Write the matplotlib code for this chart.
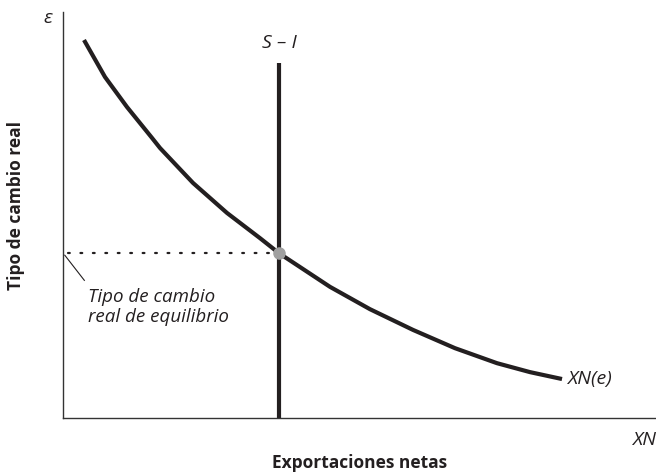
import matplotlib
matplotlib.use("Agg")
from matplotlib import pyplot as plt

plt.rcParams['font.family'] = ['Open Sans', 'DejaVu Sans']

# Curva XN(e) (unidades arbitrarias 0-10)
xn_x = [0.354, 0.708, 1.079, 1.500, 1.636, 2.192, 2.766, 3.322, 3.642,
        4.503, 5.177, 5.902, 6.610, 7.319, 7.875, 8.415]
xn_y = [9.31, 8.40, 7.66, 6.90, 6.65, 5.79, 5.05, 4.43, 4.06,
        3.23, 2.68, 2.17, 1.72, 1.35, 1.13, 0.96]

# Recta vertical S - I
si_x = 3.642
si_top = 8.74

# Equilibrio
eq_x = 3.642
eq_y = 4.06

fig = plt.figure(figsize=(6.56, 4.75), dpi=100)
ax = fig.add_axes([63/656, 57/475, 593/656, 406/475])
ax.set_xlim(0, 10)
ax.set_ylim(0, 10)

for side in ['top', 'right']:
    ax.spines[side].set_visible(False)
for side in ['left', 'bottom']:
    ax.spines[side].set_color('#333333')
    ax.spines[side].set_linewidth(1.0)
ax.set_xticks([])
ax.set_yticks([])

ax.plot(xn_x, xn_y, color='#231f20', lw=3.0, solid_capstyle='butt',
        solid_joinstyle='round', clip_on=False)
ax.plot([si_x, si_x], [0, si_top], color='#231f20', lw=3.0,
        solid_capstyle='butt', clip_on=False)
ax.plot([0.08, eq_x - 0.1], [eq_y, eq_y], color='#231f20', lw=1.6,
        linestyle=(0, (0.8, 4.8)), dash_capstyle='round')
ax.plot([eq_x], [eq_y], 'o', ms=8, color='#a0a0a0', zorder=5)

# línea guía de la etiqueta
ax.plot([0.03, 0.36], [eq_y - 0.05, eq_y - 0.67], color='#231f20', lw=0.8)
ax.text(0.42, eq_y - 1.33, 'Tipo de cambio\nreal de equilibrio', fontsize=13.5,
        style='italic', color='#231f20', ha='left', va='center',
        linespacing=1.1)

ax.text(8.5, 0.96, 'XN(e)', fontsize=14, style='italic', color='#231f20',
        ha='left', va='center')
ax.text(si_x, si_top + 0.5, 'S – I', fontsize=14, style='italic',
        color='#231f20', ha='center', va='center')

fig.text(48/656, 1 - 18/475, 'ε', fontsize=14, style='italic',
         color='#231f20', ha='center', va='center')
fig.text(656/656, 1 - 440/475, 'XN', fontsize=14, style='italic',
         color='#231f20', ha='right', va='center')

fig.text(360/656, 1 - 463/475, 'Exportaciones netas', fontsize=12.5,
         fontweight='bold', color='#231f20', ha='center', va='center')
fig.text(16/656, 1 - 205/475, 'Tipo de cambio real', fontsize=12.5,
         fontweight='bold', color='#231f20', ha='center', va='center',
         rotation=90)

fig.savefig('out.png', dpi=100)
